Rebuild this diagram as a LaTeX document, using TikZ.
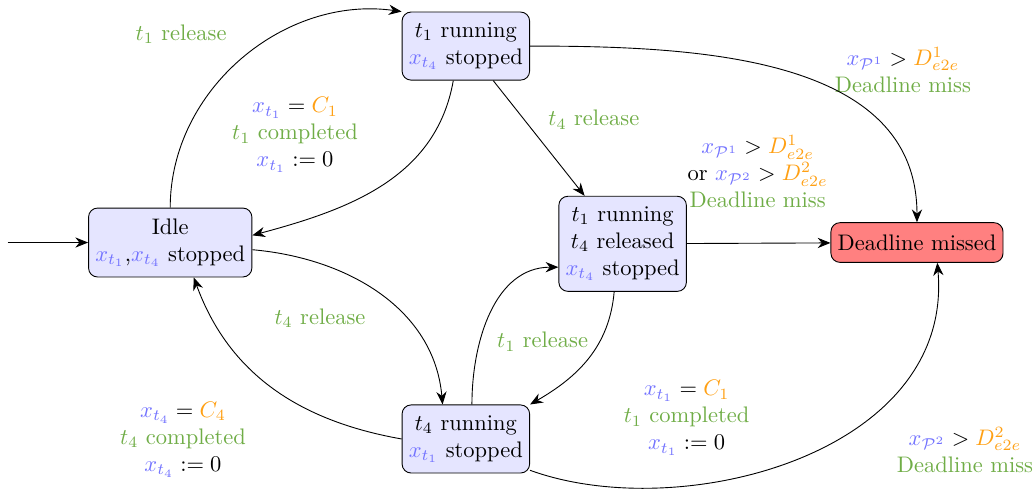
\documentclass[tikz,border=0pt]{standalone}
\usetikzlibrary{arrows.meta,positioning}
\usepackage{xcolor}
\usepackage{amsmath,amssymb}
\definecolor{xblue}{RGB}{115,115,255}
\definecolor{corange}{RGB}{255,160,20}
\definecolor{cgreen}{RGB}{112,173,71}
\newcommand{\clk}[1]{\textcolor{xblue}{x_{#1}}}
\newcommand{\ddl}[1]{\textcolor{corange}{D^{#1}_{e2e}}}

\begin{document}
\begin{tikzpicture}[
  state/.style={rectangle, draw, fill=#1, rounded corners=4pt, align=center, inner xsep=3pt, inner ysep=4.6pt},
  state/.default=blue!10,
  lab/.style={align=center},
  arr/.style={-{Stealth[length=2mm,width=1.6mm]}}
]
  \useasboundingbox (0,0) rectangle (16.19,7.70);

  % states
  \node[state] (idle) at (2.66,3.91) {Idle\\$\clk{t_1}$,$\clk{t_4}$ stopped};
  \node[state] (t1run) at (7.28,6.98) {$t_1$ running\\$\clk{t_4}$ stopped};
  \node[state] (t1t4) at (9.73,3.89) {$t_1$ running\\$t_4$ released\\$\clk{t_4}$ stopped};
  \node[state=red!50, minimum height=0.62cm, inner ysep=3pt] (dead) at (14.33,3.91) {Deadline missed};
  \node[state] (t4run) at (7.28,0.84) {$t_4$ running\\$\clk{t_1}$ stopped};
  \coordinate (init) at (0.12,3.91);

  % labels
  \node[lab] (l1) at (2.83,7.17) {\textcolor{cgreen}{$t_1$ release}};
  \node[lab] (l2) at (4.61,5.59) {$\clk{t_1} = \textcolor{corange}{C_1}$\\\textcolor{cgreen}{$t_1$ completed}\\$\clk{t_1} := 0$};
  \node[lab] (l3) at (9.28,5.83) {\textcolor{cgreen}{$t_4$ release}};
  \node[lab] (l4) at (14.11,6.61) {$\clk{\mathcal{P}^1} > \ddl{1}$\\\textcolor{cgreen}{Deadline miss}};
  \node[lab] (l5) at (11.84,5.02) {$\clk{\mathcal{P}^1} > \ddl{1}$\\or $\clk{\mathcal{P}^2} > \ddl{2}$\\\textcolor{cgreen}{Deadline miss}};
  \node[lab] (l6) at (10.73,1.17) {$\clk{t_1} = \textcolor{corange}{C_1}$\\\textcolor{cgreen}{$t_1$ completed}\\$\clk{t_1} := 0$};
  \node[lab] (l7) at (8.48,2.36) {\textcolor{cgreen}{$t_1$ release}};
  \node[lab] (l8) at (5.00,2.73) {\textcolor{cgreen}{$t_4$ release}};
  \node[lab] (l9) at (2.86,0.83) {$\clk{t_4} = \textcolor{corange}{C_4}$\\\textcolor{cgreen}{$t_4$ completed}\\$\clk{t_4} := 0$};
  \node[lab] (l10) at (15.08,0.67) {$\clk{\mathcal{P}^2} > \ddl{2}$\\\textcolor{cgreen}{Deadline miss}};

  % transitions
  \draw[arr] (init) -- (idle);
  \draw[arr] (idle.north) to[out=90,in=172] (t1run.north west);
  \draw[arr] (t1run.250) to[out=-100,in=15] (idle.5);
  \draw[arr] (t1run) -- (t1t4);
  \draw[arr] (t1run.east) to[out=0,in=90] (dead.north);
  \draw[arr] (t1t4) -- (dead);
  \draw[arr] (t1t4.-100) to[out=-95,in=30] (t4run.north east);
  \draw[arr] (t4run.80) to[out=90,in=180] (t1t4.200);
  \draw[arr] (idle.-5) to[out=-5,in=95] (t4run.124);
  \draw[arr] (t4run.west) to[out=170,in=-70] (idle.-56);
  \draw[arr] (t4run.-26) .. controls +(-20:2.5) and +(-85:3) .. (dead.-45);
\end{tikzpicture}
\end{document}
